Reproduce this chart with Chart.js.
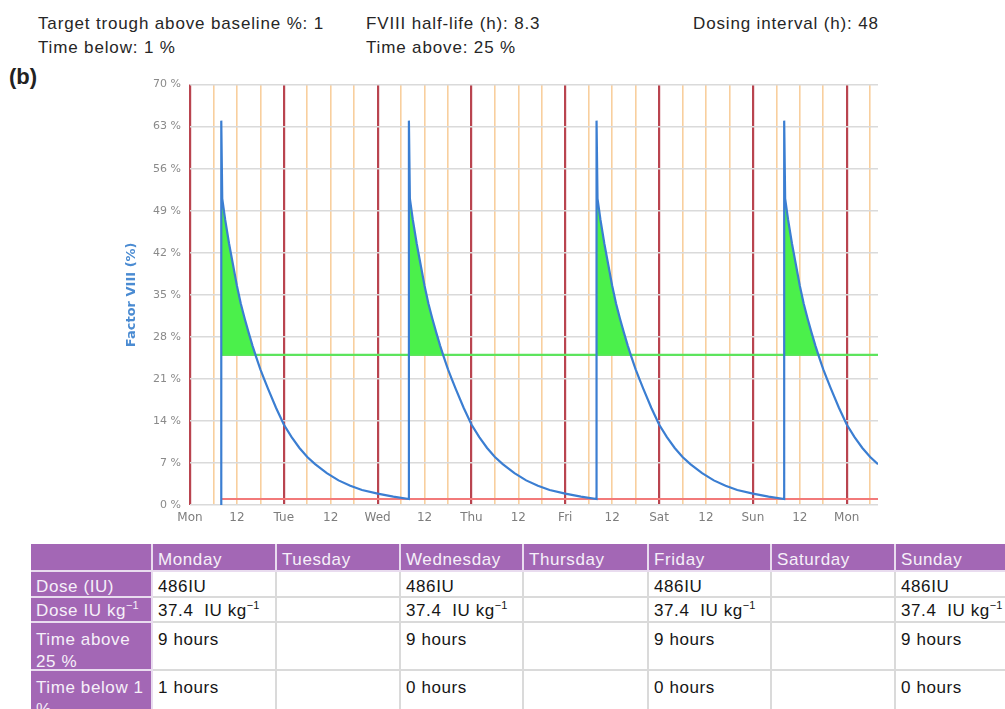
<!DOCTYPE html>
<html>
<head>
<meta charset="utf-8">
<script src="https://cdn.jsdelivr.net/npm/chart.js@4.4.1/dist/chart.umd.min.js"></script>
<style>
html,body{margin:0;padding:0;background:#fff;}
body{width:1005px;height:709px;overflow:hidden;position:relative;font-family:"Liberation Sans",Arial,sans-serif;}
.info{position:absolute;font-size:17px;letter-spacing:0.85px;color:#262626;line-height:18px;white-space:nowrap;}
#panel{position:absolute;left:9px;top:66px;font-weight:bold;font-size:22px;line-height:22px;color:#222;}
#chartBox{position:absolute;left:120px;top:69px;width:770px;height:466px;}
#doseTable{position:absolute;left:31px;top:544px;width:989px;border-collapse:separate;border-spacing:0;table-layout:fixed;font-size:17px;letter-spacing:0.6px;}
#doseTable td{padding:0;vertical-align:top;white-space:nowrap;color:#151515;border-right:2px solid #dadada;border-bottom:2px solid #dadada;background:#fff;}
#doseTable td.p{background:#a367b5;color:#f6f0f9;border-right-color:#e9dcef;border-bottom-color:#e9dcef;}
#doseTable td div{overflow:visible;line-height:22px;padding-left:5px;box-sizing:border-box;}
#doseTable sup{font-size:11px;line-height:0;letter-spacing:0;}
</style>
</head>
<body>
<div class="info" style="left:38px;top:15px;">Target trough above baseline %: 1</div>
<div class="info" style="left:366px;top:15px;">FVIII half-life (h): 8.3</div>
<div class="info" style="left:693px;top:15px;">Dosing interval (h): 48</div>
<div class="info" style="left:38px;top:39px;">Time below: 1 %</div>
<div class="info" style="left:366px;top:39px;">Time above: 25 %</div>
<div id="panel">(b)</div>
<div id="chartBox"><canvas id="c"></canvas></div>
<table id="doseTable"></table>
<script>
// ---- chart data ----
const doseHours = [8, 56, 104, 152];            // hours from Monday 00:00 (Mon, Wed, Fri, Sun at 08:00)
const hoursAfterDose = [0, 0.25, 1, 2, 3, 4, 5, 6, 7, 8, 9, 10, 11, 12, 14, 16, 18, 20, 22, 24, 27, 30, 33, 36, 40, 44, 48];
const levelAfterDose = [64, 51, 47.5, 43.5, 40, 36.5, 33.5, 31, 28.7, 26.5, 24.5, 22.6, 20.9, 19.3, 16.2, 13.4, 11.3, 9.5, 8.0, 6.8, 5.3, 4.1, 3.2, 2.5, 1.9, 1.4, 1.0];
const levelBeforeFirstDose = 0;
const aboveThreshold = 25;   // %
const troughTarget = 1;      // %
const axisEndHour = 176;
const xTickLabels = ['Mon','12','Tue','12','Wed','12','Thu','12','Fri','12','Sat','12','Sun','12','Mon'];
const yTickValues = [0, 7, 14, 21, 28, 35, 42, 49, 56, 63, 70];

// ---- table data ----
const tableDays = ['Monday','Tuesday','Wednesday','Thursday','Friday','Saturday','Sunday'];
const doseIU = ['486IU','','486IU','','486IU','','486IU'];
const doseIUkg = ['37.4','','37.4','','37.4','','37.4'];
const timeAbove = ['9 hours','','9 hours','','9 hours','','9 hours'];
const timeBelow = ['1 hours','','0 hours','','0 hours','','0 hours'];

// build curve points
const curve = [{x: doseHours[0], y: levelBeforeFirstDose}];
doseHours.forEach(d => {
  hoursAfterDose.forEach((h, i) => {
    const x = d + h;
    if (x <= axisEndHour) curve.push({x: x, y: levelAfterDose[i]});
  });
});
const firstDose = doseHours[0];

const gridHours = [];
for (let h = 0; h < axisEndHour; h += 6) gridHours.push(h);

const chart = new Chart(document.getElementById('c'), {
  type: 'line',
  data: {
    datasets: [
      {
        label: 'Factor VIII',
        data: curve,
        borderColor: '#3b7ed2',
        borderWidth: 2.2,
        pointRadius: 0,
        tension: 0,
        fill: {target: {value: aboveThreshold}, above: '#4bf04b', below: 'rgba(0,0,0,0)'}
      },
      {
        label: 'above',
        data: [{x: firstDose, y: aboveThreshold}, {x: axisEndHour, y: aboveThreshold}],
        borderColor: '#5fe35f',
        borderWidth: 2.2,
        pointRadius: 0,
        fill: false
      },
      {
        label: 'trough',
        data: [{x: firstDose, y: troughTarget}, {x: axisEndHour, y: troughTarget}],
        borderColor: '#f27a7a',
        borderWidth: 2,
        pointRadius: 0,
        fill: false
      }
    ]
  },
  options: {
    responsive: true,
    maintainAspectRatio: false,
    animation: false,
    layout: {padding: {top: 4, right: 12, bottom: 0, left: 0}},
    plugins: {legend: {display: false}, tooltip: {enabled: false}},
    scales: {
      x: {
        type: 'linear',
        min: 0,
        max: axisEndHour,
        afterBuildTicks: s => { s.ticks = gridHours.map(v => ({value: v})); },
        afterFit: s => { s.height = 30; },
        border: {display: false},
        grid: {
          drawTicks: false,
          color: ctx => (ctx.tick && ctx.tick.value % 24 === 0) ? '#b9444f' : '#f8cf9e',
          lineWidth: ctx => (ctx.tick && ctx.tick.value % 24 === 0) ? 2.2 : 1.6
        },
        ticks: {
          autoSkip: false,
          maxRotation: 0,
          padding: 6,
          color: '#7d7d7d',
          font: {family: 'DejaVu Sans', size: 12},
          callback: v => (v % 12 === 0) ? xTickLabels[v / 12] : ''
        }
      },
      y: {
        min: 0,
        max: 70,
        afterBuildTicks: s => { s.ticks = yTickValues.map(v => ({value: v})); },
        afterFit: s => { s.width = 70; },
        border: {display: false},
        grid: {drawTicks: false, color: '#dadada', lineWidth: 1.5},
        ticks: {
          padding: 9,
          color: '#8a8a8a',
          font: {family: 'DejaVu Sans', size: 11},
          callback: v => v + ' %'
        },
        title: {
          display: true,
          text: 'Factor VIII (%)',
          color: '#4a8bd2',
          font: {family: 'DejaVu Sans', size: 13, weight: 'bold'}
        }
      }
    }
  }
});

// build table
const tbl = document.getElementById('doseTable');
const colW = [122, 124, 124, 123, 125, 123, 124, 124];
const rowSpec = [[28, 5], [26, 4], [25, 2], [48, 6], [47, 6]];   // [row height incl. border, text top padding]
function cell(content, cls, r) {
  const h = rowSpec[r][0] - 2, pt = rowSpec[r][1];
  return '<td' + (cls ? ' class="' + cls + '"' : '') + '><div style="height:' + h + 'px;padding-top:' + pt + 'px">' + content + '</div></td>';
}
let html = '<colgroup>' + colW.map(w => '<col style="width:' + w + 'px">').join('') + '</colgroup>';
html += '<tr>' + cell('', 'p', 0) + tableDays.map(d => cell(d, 'p', 0)).join('') + '</tr>';
html += '<tr>' + cell('Dose (IU)', 'p', 1) + doseIU.map(v => cell(v, '', 1)).join('') + '</tr>';
html += '<tr>' + cell('Dose IU kg<sup>\u22121</sup>', 'p', 2) + doseIUkg.map(v => cell(v ? v + '&nbsp; IU kg<sup>\u22121</sup>' : '', '', 2)).join('') + '</tr>';
html += '<tr>' + cell('Time above<br>25 %', 'p', 3) + timeAbove.map(v => cell(v, '', 3)).join('') + '</tr>';
html += '<tr>' + cell('Time below 1<br>%', 'p', 4) + timeBelow.map(v => cell(v, '', 4)).join('') + '</tr>';
tbl.innerHTML = html;
</script>
</body>
</html>
